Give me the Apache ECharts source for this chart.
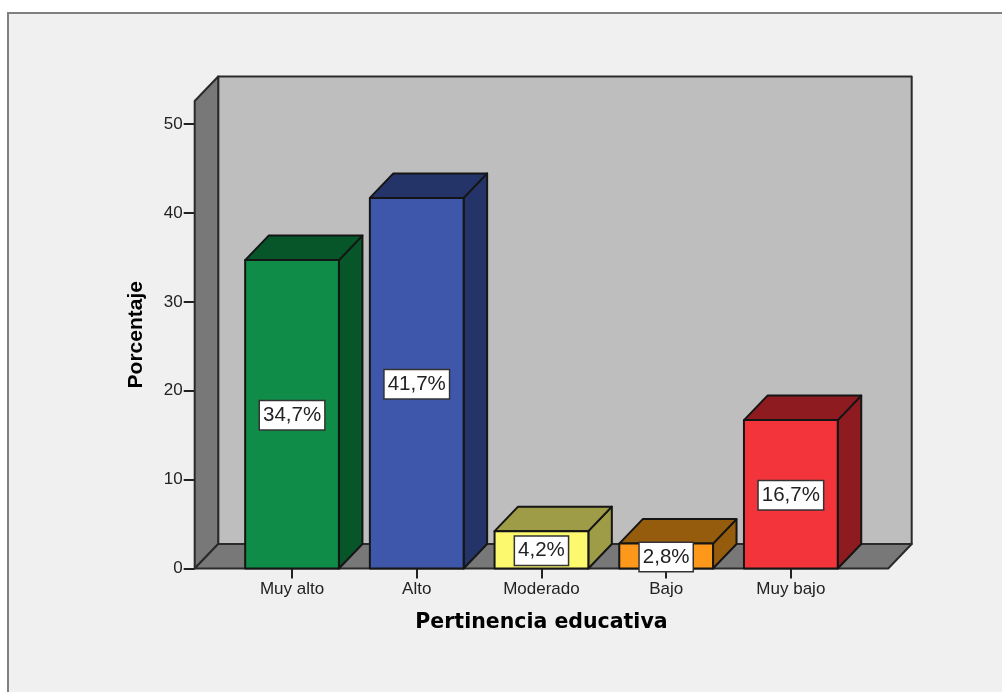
<!DOCTYPE html>
<html>
<head>
<meta charset="utf-8">
<title>Pertinencia educativa</title>
<style>
html, body { margin: 0; padding: 0; background: #fff; }
#chart { width: 1002px; height: 692px; }
</style>
<script src="https://cdn.jsdelivr.net/npm/echarts@6/dist/echarts.min.js"></script>
</head>
<body>
<div id="chart"></div>
<script>
var categories = ['Muy alto', 'Alto', 'Moderado', 'Bajo', 'Muy bajo']
var values = [34.7, 41.7, 4.2, 2.8, 16.7]
var pointLabels = ['34,7%', '41,7%', '4,2%', '2,8%', '16,7%']
var yTicks = [0, 10, 20, 30, 40, 50]
var yMax = 52.6

var frontColors = ['#0f8c47', '#3f57aa', '#fdf96f', '#fd981a', '#f3343a']
var shadeColors = ['#07562a', '#253468', '#9e9c47', '#965c0e', '#8d1b20']

// oblique depth of the fake 3d box, in pixels
var depthX = 23.5
var depthY = 24.5
var wallOverhang = 35
var barRatio = 0.752
var edge = { stroke: '#151515', lineWidth: 2, lineJoin: 'round' }

function poly(points, fill, stroke) {
	return {
		type: 'polygon',
		shape: { points: points },
		style: Object.assign({ fill: fill }, stroke || edge),
	}
}

// back wall, left wall and floor
function renderFrame(params, api) {
	var cs = params.coordSys
	var x0 = cs.x - wallOverhang
	var x1 = cs.x + cs.width + wallOverhang
	var yb = api.coord([0, 0])[1]
	var yt = api.coord([0, yMax])[1]
	var wall = { stroke: '#2a2a2a', lineWidth: 2, lineJoin: 'round' }
	return {
		type: 'group',
		children: [
			poly([[x0 + depthX, yt - depthY], [x1 + depthX, yt - depthY], [x1 + depthX, yb - depthY], [x0 + depthX, yb - depthY]], '#bebebe', wall),
			poly([[x0, yb], [x0, yt], [x0 + depthX, yt - depthY], [x0 + depthX, yb - depthY]], '#787878', wall),
			poly([[x0, yb], [x1, yb], [x1 + depthX, yb - depthY], [x0 + depthX, yb - depthY]], '#787878', wall),
		],
	}
}

function renderBar(params, api) {
	var i = params.dataIndex
	var base = api.coord([api.value(0), 0])
	var top = api.coord([api.value(0), api.value(1)])
	var half = api.size([1, 0])[0] * barRatio / 2
	var l = base[0] - half
	var r = base[0] + half
	var yb = base[1]
	var yt = top[1]
	return {
		type: 'group',
		children: [
			poly([[r, yb], [r, yt], [r + depthX, yt - depthY], [r + depthX, yb - depthY]], shadeColors[i]),
			poly([[l, yt], [r, yt], [r + depthX, yt - depthY], [l + depthX, yt - depthY]], shadeColors[i]),
			poly([[l, yb], [r, yb], [r, yt], [l, yt]], frontColors[i]),
		],
	}
}

// value boxes go in their own series so they stay above every bar
function renderLabel(params, api) {
	var mid = api.coord([api.value(0), api.value(1) / 2])
	return {
		type: 'text',
		x: mid[0],
		y: mid[1] + 1,
		style: {
			text: pointLabels[params.dataIndex],
			font: '20.5px "Liberation Sans"',
			fill: '#222',
			align: 'center',
			verticalAlign: 'middle',
			backgroundColor: '#fff',
			borderColor: '#333',
			borderWidth: 1.5,
			padding: [4, 3, 3, 3],
		},
	}
}

var barData = categories.map(function (c, i) {
	return [c, values[i]]
})

var chart = echarts.init(document.getElementById('chart'))
chart.setOption({
	animation: false,
	backgroundColor: '#fff',
	graphic: [
		{
			type: 'rect',
			z: -10,
			shape: { x: 8, y: 13, width: 1100, height: 800 },
			style: { fill: '#f0f0f0', stroke: '#808080', lineWidth: 2 },
		},
	],
	grid: { left: 229.7, top: 101, width: 623.5, height: 467.5 },
	xAxis: {
		type: 'category',
		data: categories,
		name: 'Pertinencia educativa',
		nameLocation: 'middle',
		nameGap: 44,
		nameTextStyle: { fontFamily: 'DejaVu Sans', fontWeight: 'bold', fontSize: 20.5, color: '#000' },
		axisLine: { show: false },
		axisTick: { show: true, alignWithLabel: true, length: 10, lineStyle: { color: '#222', width: 2 } },
		axisLabel: { margin: 12, color: '#222', fontFamily: 'Liberation Sans', fontSize: 17 },
	},
	yAxis: {
		type: 'value',
		min: 0,
		max: yMax,
		interval: 10,
		offset: wallOverhang,
		name: 'Porcentaje',
		nameLocation: 'middle',
		nameGap: 48,
		nameTextStyle: { fontFamily: 'Liberation Sans', fontWeight: 'bold', fontSize: 21, color: '#000' },
		axisLine: { show: false },
		axisTick: { show: true, length: 11, customValues: yTicks, lineStyle: { color: '#222', width: 2 } },
		axisLabel: { margin: 12, color: '#222', fontFamily: 'Liberation Sans', fontSize: 17, customValues: yTicks },
		splitLine: { show: false },
	},
	series: [
		{ type: 'custom', name: 'frame', renderItem: renderFrame, data: [[0, 0]], clip: false, z: 1, silent: true },
		{ type: 'custom', name: 'Porcentaje', renderItem: renderBar, data: barData, encode: { x: 0, y: 1 }, clip: false, z: 2 },
		{ type: 'custom', name: 'labels', renderItem: renderLabel, data: barData, encode: { x: 0, y: 1 }, clip: false, z: 3, silent: true },
	],
})
</script>
</body>
</html>
